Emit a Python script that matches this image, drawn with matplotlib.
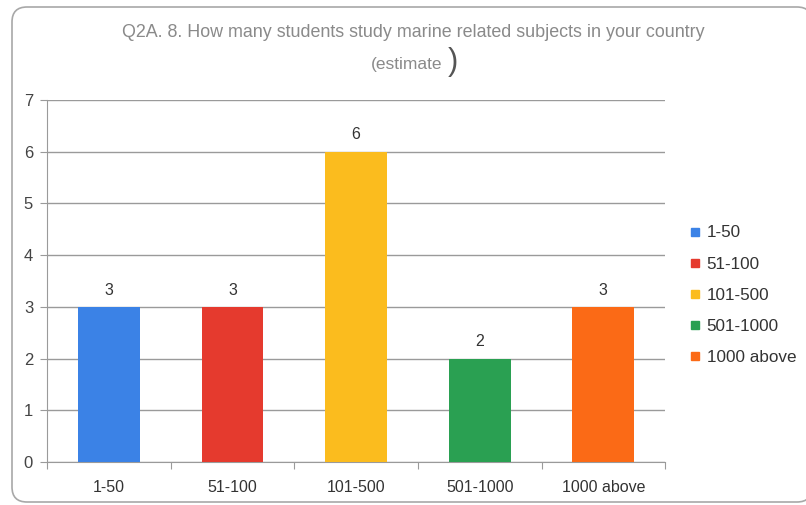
import matplotlib
matplotlib.use("Agg")
import matplotlib.pyplot as plt
import matplotlib.transforms as mtransforms
from matplotlib.patches import FancyBboxPatch
from matplotlib.lines import Line2D

categories = ["1-50", "51-100", "101-500", "501-1000", "1000 above"]
counts = [3, 3, 6, 2, 3]
colors = ["#3b82e6", "#e53a2e", "#fbbc1e", "#2aa052", "#fb6a16"]
y_ticks = [0, 1, 2, 3, 4, 5, 6, 7]
title_line1 = "Q2A. 8. How many students study marine related subjects in your country"
title_line2 = "(estimate"

plt.rcParams["font.family"] = ["Liberation Sans", "DejaVu Sans"]

DPI = 100
fig = plt.figure(figsize=(8.06, 5.05), dpi=DPI)
fig.patch.set_facecolor("white")

# rounded frame around the chart, laid out in pixels
frame = FancyBboxPatch((12, 3), 800, 495,
                       boxstyle="round,pad=0,rounding_size=15",
                       transform=mtransforms.IdentityTransform(),
                       facecolor="white", edgecolor="#a8a8a8",
                       linewidth=1.2, zorder=-5)
fig.patches.append(frame)

ax = fig.add_axes([0.0583, 0.0851, 0.767, 0.717])
ax.set_facecolor("none")
ax.set_zorder(2)

x = list(range(len(categories)))
ax.bar(x, counts, width=0.5, color=colors, zorder=3)

for xi, v in zip(x, counts):
    ax.text(xi, v + 0.18, str(v), ha="center", va="bottom",
            fontsize=11.5, color="#333333")

ax.set_xlim(-0.5, len(categories) - 0.5)
ax.set_ylim(0, 7)
ax.set_yticks(y_ticks)
ax.set_yticklabels([str(t) for t in y_ticks], fontsize=12, color="#444444")
ax.yaxis.grid(True, color="#9a9a9a", linewidth=1.0, zorder=0)
ax.tick_params(axis="y", length=5, color="#9a9a9a", pad=5)

# category labels centered under bars, tick marks at the boundaries
ax.set_xticks([i - 0.5 for i in range(len(categories) + 1)])
ax.set_xticklabels([])
ax.set_xticks(x, minor=True)
ax.set_xticklabels(categories, minor=True, fontsize=11.5, color="#333333")
ax.tick_params(axis="x", which="major", length=5, color="#9a9a9a")
ax.tick_params(axis="x", which="minor", length=0, pad=13)

for side in ("top", "right"):
    ax.spines[side].set_visible(False)
ax.spines["left"].set_color("#9a9a9a")
ax.spines["bottom"].set_color("#9a9a9a")

fig.text(0.513, 0.936, title_line1, ha="center", va="center",
         fontsize=12.9, color="#8a8a8a")
fig.text(0.549, 0.873, title_line2, ha="right", va="center",
         fontsize=12.5, color="#8a8a8a")
fig.text(0.555, 0.878, ")", ha="left", va="center",
         fontsize=22, color="#555555")

handles = [Line2D([0], [0], marker="s", linestyle="none", markersize=6,
                  markerfacecolor=c, markeredgecolor=c) for c in colors]
leg = fig.legend(handles, categories, loc="upper left",
                 bbox_to_anchor=(0.848, 0.567), frameon=False,
                 fontsize=12.3, handlelength=0.6, handletextpad=0.35,
                 labelspacing=0.95, borderaxespad=0)
for t in leg.get_texts():
    t.set_color("#333333")

fig.savefig("out.png", dpi=DPI, facecolor="white")
